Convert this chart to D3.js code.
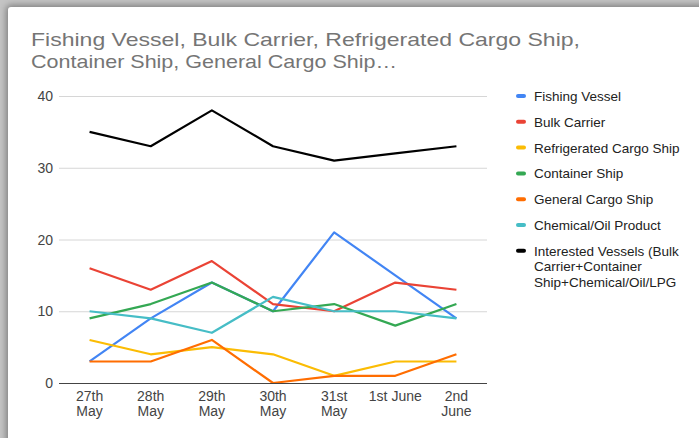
<!DOCTYPE html>
<html>
<head>
<meta charset="utf-8">
<script src="https://cdn.jsdelivr.net/npm/d3@7"></script>
<style>
  html, body { margin: 0; padding: 0; width: 699px; height: 438px; overflow: hidden; background: #c4c4c4; }
  #card { position: absolute; left: 8px; top: 7px; width: 720px; height: 470px; background: #fff;
          box-shadow: 0 0 6px 2px rgba(0,0,0,0.35); border-radius: 3px; }
  svg { position: absolute; left: 0; top: 0; }
  text { font-family: Arial, "Liberation Sans", sans-serif; }
</style>
</head>
<body>
<div id="card"></div>
<svg id="chart" width="699" height="438"></svg>
<script>
const titleLines = ["Fishing Vessel, Bulk Carrier, Refrigerated Cargo Ship,", "Container Ship, General Cargo Ship\u2026"];
const categories = [["27th", "May"], ["28th", "May"], ["29th", "May"], ["30th", "May"], ["31st", "May"], ["1st June"], ["2nd", "June"]];
const yTicks = [0, 10, 20, 30, 40];
const seriesNames = ["Fishing Vessel", "Bulk Carrier", "Refrigerated Cargo Ship", "Container Ship", "General Cargo Ship", "Chemical/Oil Product", "Interested Vessels (Bulk Carrier+Container Ship+Chemical/Oil/LPG"];
const legendLines = [["Fishing Vessel"], ["Bulk Carrier"], ["Refrigerated Cargo Ship"], ["Container Ship"], ["General Cargo Ship"], ["Chemical/Oil Product"], ["Interested Vessels (Bulk", "Carrier+Container", "Ship+Chemical/Oil/LPG"]];
const seriesColors = ["#4285F4", "#EA4335", "#FBBC04", "#34A853", "#FF6D01", "#46BDC6", "#000000"];
const fishingVessel = [3, 9, 14, 10, 21, 15, 9];
const bulkCarrier = [16, 13, 17, 11, 10, 14, 13];
const refrigeratedCargo = [6, 4, 5, 4, 1, 3, 3];
const containerShip = [9, 11, 14, 10, 11, 8, 11];
const generalCargo = [3, 3, 6, 0, 1, 1, 4];
const chemicalOil = [10, 9, 7, 12, 10, 10, 9];
const interestedVessels = [35, 33, 38, 33, 31, 32, 33];
const seriesValues = [fishingVessel, bulkCarrier, refrigeratedCargo, containerShip, generalCargo, chemicalOil, interestedVessels];

const svg = d3.select("#chart");
const plot = { left: 59, right: 487, top: 96, bottom: 383 };

// Title
const titleWidths = [549, 366];
titleLines.forEach((t, i) => {
  svg.append("text")
    .attr("x", 31).attr("y", 46 + i * 22)
    .attr("font-size", 19).attr("fill", "#757575")
    .attr("textLength", titleWidths[i]).attr("lengthAdjust", "spacingAndGlyphs")
    .text(t);
});

const x = d3.scalePoint().domain(d3.range(categories.length)).range([plot.left, plot.right]).padding(0.5);
const y = d3.scaleLinear().domain([0, 40]).range([plot.bottom, plot.top]);

// Gridlines
svg.append("g").selectAll("line").data(yTicks.filter(v => v !== 0)).join("line")
  .attr("x1", plot.left).attr("x2", plot.right)
  .attr("y1", d => y(d) + 0.5).attr("y2", d => y(d) + 0.5)
  .attr("stroke", "#d6d6d6").attr("stroke-width", 1);

// Y axis labels
svg.append("g").selectAll("text").data(yTicks).join("text")
  .attr("x", 53).attr("y", d => y(d) + 5)
  .attr("text-anchor", "end").attr("font-size", 14).attr("fill", "#444")
  .text(d => d);

// Lines
const line = d3.line().x((d, i) => x(i)).y(d => y(d));
seriesValues.forEach((vals, si) => {
  svg.append("path").datum(vals)
    .attr("d", line).attr("fill", "none")
    .attr("stroke", seriesColors[si]).attr("stroke-width", 2.2)
    .attr("stroke-linejoin", "round");
});

// Baseline
svg.append("line")
  .attr("x1", plot.left).attr("x2", plot.right)
  .attr("y1", y(0) + 0.5).attr("y2", y(0) + 0.5)
  .attr("stroke", "#444").attr("stroke-width", 1);

// X axis labels
const xl = svg.append("g");
categories.forEach((lines, i) => {
  const t = xl.append("text").attr("text-anchor", "middle").attr("font-size", 14).attr("fill", "#444");
  lines.forEach((s, j) => {
    t.append("tspan").attr("x", x(i)).attr("y", 401 + j * 14.5).text(s);
  });
});

// Legend
const legend = svg.append("g");
legendLines.forEach((lines, i) => {
  const cy = 96 + i * 25.8;
  legend.append("rect").attr("x", 516).attr("y", cy - 2).attr("width", 10).attr("height", 4)
    .attr("rx", 2).attr("fill", seriesColors[i]);
  const t = legend.append("text").attr("font-size", 13.5).attr("fill", "#222");
  lines.forEach((s, j) => {
    t.append("tspan").attr("x", 534).attr("y", cy + 5 + j * 15.5).text(s);
  });
});
</script>
</body>
</html>
